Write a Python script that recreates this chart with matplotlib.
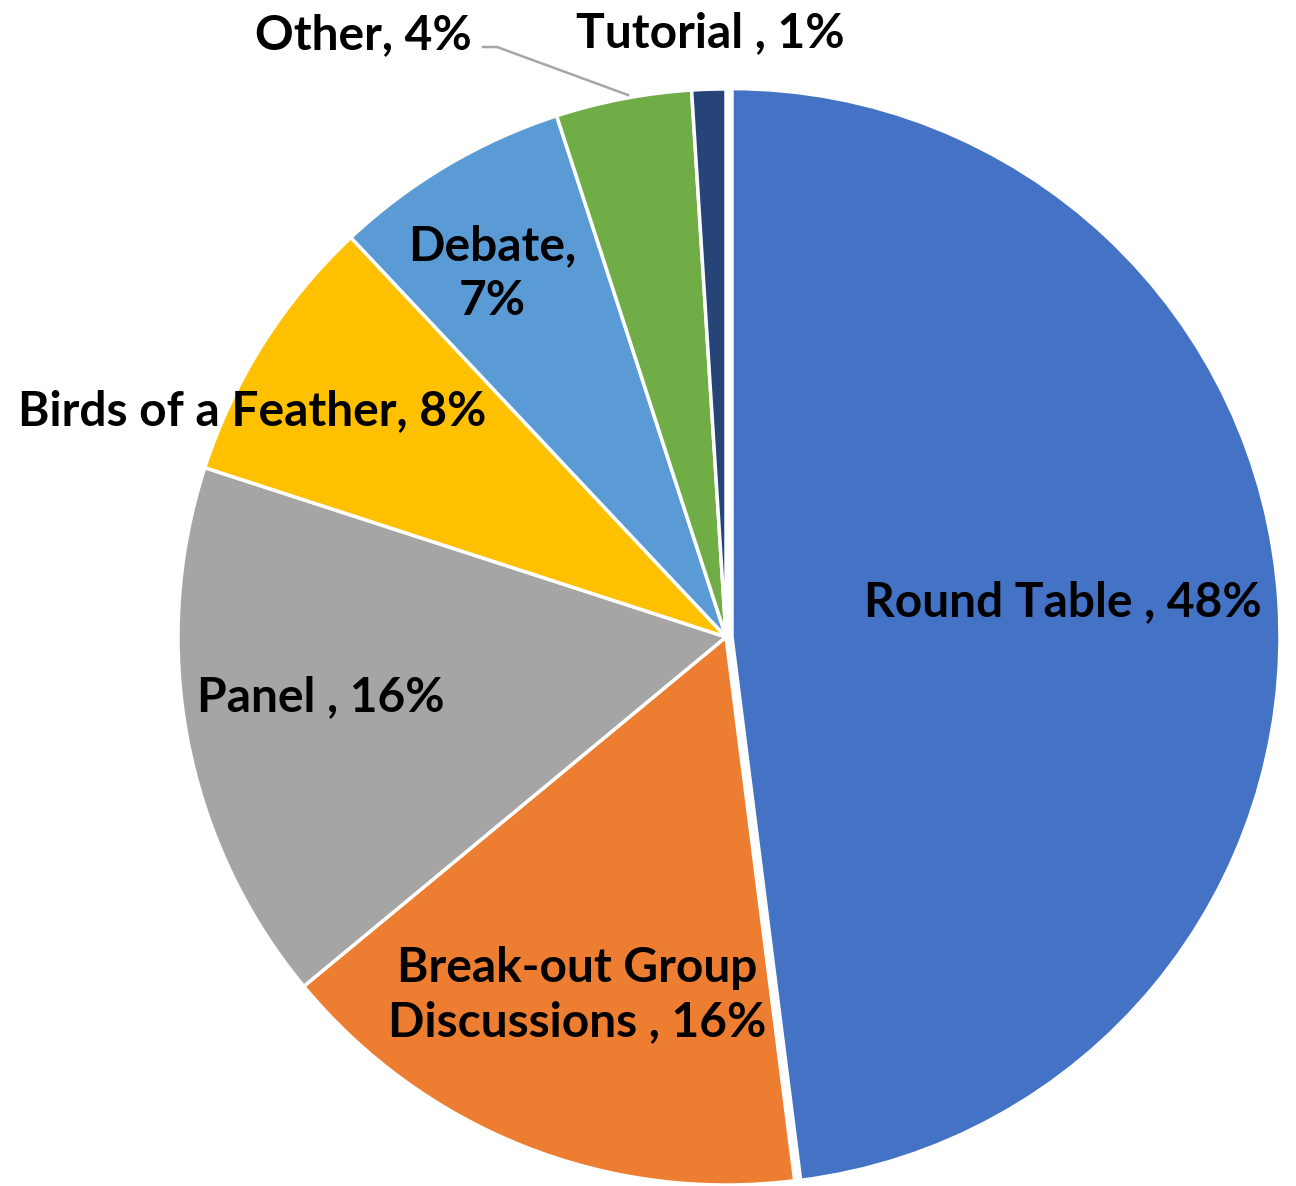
import matplotlib.pyplot as plt

# Session formats (share of sessions), clockwise from 12 o'clock
categories = ["Round Table", "Break-out Group Discussions", "Panel",
              "Birds of a Feather", "Debate", "Other", "Tutorial"]
shares = [48, 16, 16, 8, 7, 4, 1]
label_texts = ["Round Table , 48%", "Break-out Group\nDiscussions , 16%",
               "Panel , 16%", "Birds of a Feather, 8%", "Debate,\n7%",
               "Other, 4%", "Tutorial , 1%"]
colors = ["#4472C4", "#ED7D31", "#A5A5A5", "#FFC000", "#5B9BD5",
          "#70AD47", "#264478"]

W, H = 1296, 1186
# label centres in pixel coords (from top-left)
label_pos = [(1063, 602), (577, 995), (321, 697), (252, 411), (492, 274),
             (363, 35), (710, 33)]

fig = plt.figure(figsize=(W / 100, H / 100), dpi=100)
ax = fig.add_axes([0, 0, 1, 1])
ax.set_xlim(0, W)
ax.set_ylim(0, H)
ax.set_aspect("equal")
ax.axis("off")

cx, cy, r = 726, H - 637, 548
ax.pie(shares, colors=colors, startangle=90, counterclock=False,
       center=(cx, cy), radius=r, explode=[6, 0, 0, 0, 0, 0, 0],
       wedgeprops=dict(edgecolor="white", linewidth=2.5), frame=False)
ax.set_xlim(0, W)
ax.set_ylim(0, H)

for txt, (px, py) in zip(label_texts, label_pos):
    ax.text(px, H - py, txt, ha="center", va="center", fontsize=34.5,
            fontweight="bold", family=["Lato", "DejaVu Sans"],
            color="black", linespacing=1.3)

# leader line for "Other"
ax.plot([483, 497, 628], [H - 47, H - 47, H - 95], color="#A6A6A6", lw=1.8)

fig.savefig("out.png", dpi=100)
